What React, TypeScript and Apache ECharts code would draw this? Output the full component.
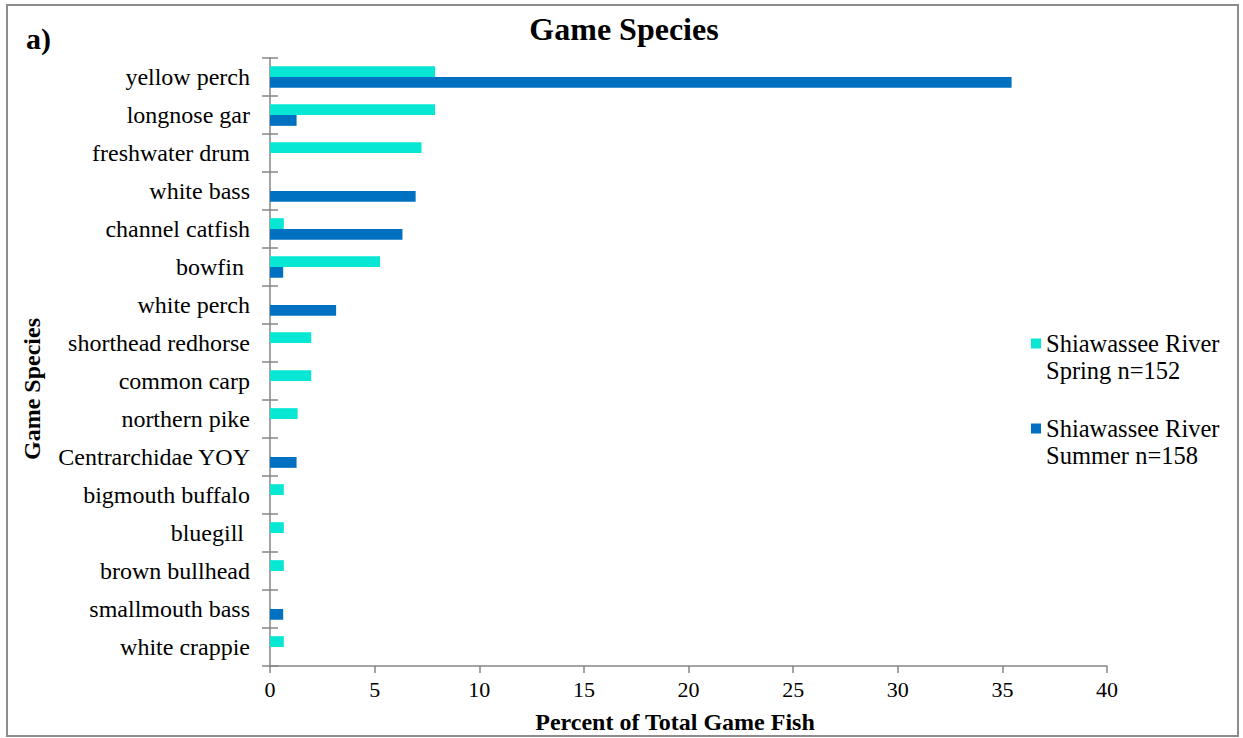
import React, { useEffect, useRef } from "react";
import * as echarts from "echarts";

const categories = [
  "yellow perch",
  "longnose gar",
  "freshwater drum",
  "white bass",
  "channel catfish",
  "bowfin ",
  "white perch",
  "shorthead redhorse",
  "common carp",
  "northern pike",
  "Centrarchidae YOY",
  "bigmouth buffalo",
  "bluegill ",
  "brown bullhead",
  "smallmouth bass",
  "white crappie",
];

const springValues = [7.89, 7.89, 7.24, 0, 0.66, 5.26, 0, 1.97, 1.97, 1.32, 0, 0.66, 0.66, 0.66, 0, 0.66];
const summerValues = [35.44, 1.27, 0, 6.96, 6.33, 0.63, 3.16, 0, 0, 0, 1.27, 0, 0, 0, 0.63, 0];

const seriesNames = ["Shiawassee River\nSpring n=152", "Shiawassee River\nSummer n=158"];
const xTicks = { min: 0, max: 40, interval: 5 };

const FONT = "'Liberation Serif', 'Times New Roman', serif";
const AXIS_COLOR = "#868686";

export default function App() {
  const ref = useRef<HTMLDivElement>(null);

  useEffect(() => {
    if (!ref.current) return;
    const chart = echarts.init(ref.current, undefined, { renderer: "svg" });
    chart.setOption({
      animation: false,
      backgroundColor: "#ffffff",
      textStyle: { fontFamily: FONT },
      title: {
        text: "Game Species",
        left: 619,
        top: 8,
        textAlign: "center",
        textStyle: { fontFamily: FONT, fontSize: 32, fontWeight: "bold", color: "#000" },
      },
      legend: {
        orient: "vertical",
        left: 1026,
        top: 298,
        itemWidth: 10,
        itemHeight: 10,
        itemGap: 4,
        icon: "rect",
        data: seriesNames,
        formatter: (name: string) => "\n" + name,
        textStyle: {
          fontFamily: FONT,
          fontSize: 24.5,
          color: "#000",
          lineHeight: 27,
        },
      },
      grid: { left: 270, right: 136, top: 58, bottom: 72, containLabel: false },
      xAxis: {
        type: "value",
        min: xTicks.min,
        max: xTicks.max,
        interval: xTicks.interval,
        axisLine: { show: true, lineStyle: { color: AXIS_COLOR, width: 1.5 } },
        axisTick: { show: true, length: 7, lineStyle: { color: AXIS_COLOR, width: 1.5 } },
        splitLine: { show: false },
        axisLabel: { fontFamily: FONT, fontSize: 22, color: "#000", margin: 12 },
      },
      yAxis: [
        {
          type: "category",
          data: categories,
          inverse: true,
          axisLine: { show: true, lineStyle: { color: AXIS_COLOR, width: 1.5 } },
          axisTick: { show: true, length: 8, lineStyle: { color: AXIS_COLOR, width: 1.5 } },
          axisLabel: { fontFamily: FONT, fontSize: 24, color: "#000", margin: 20 },
        },
        {
          type: "category",
          data: categories,
          inverse: true,
          position: "left",
          axisLine: { show: false },
          axisTick: { show: true, inside: true, length: 8, lineStyle: { color: AXIS_COLOR, width: 1.5 } },
          axisLabel: { show: false },
        },
      ],
      series: [
        {
          name: seriesNames[0],
          type: "bar",
          data: springValues,
          barGap: "0%",
          barCategoryGap: "43%",
          itemStyle: { color: "#08E6D4" },
        },
        {
          name: seriesNames[1],
          type: "bar",
          data: summerValues,
          barGap: "0%",
          barCategoryGap: "43%",
          itemStyle: { color: "#0070C0" },
        },
      ],
      graphic: [
        {
          type: "rect",
          shape: { x: 7, y: 5, width: 1231, height: 731 },
          style: { fill: "none", stroke: "#8c8c8c", lineWidth: 2 },
          silent: true,
        },
        {
          type: "text",
          x: 26,
          y: 38,
          style: {
            text: "a)",
            fontFamily: FONT,
            fontSize: 30,
            fontWeight: "bold",
            fill: "#000",
            verticalAlign: "middle",
          },
        },
        {
          type: "text",
          x: 675,
          y: 722,
          style: {
            text: "Percent of Total Game Fish",
            fontFamily: FONT,
            fontSize: 24,
            fontWeight: "bold",
            fill: "#000",
            align: "center",
            verticalAlign: "middle",
          },
        },
        {
          type: "text",
          x: 32,
          y: 389,
          rotation: Math.PI / 2,
          style: {
            text: "Game Species",
            fontFamily: FONT,
            fontSize: 24,
            fontWeight: "bold",
            fill: "#000",
            align: "center",
            verticalAlign: "middle",
          },
        },
      ],
    });
    return () => chart.dispose();
  }, []);

  return (
    <div
      ref={ref}
      style={{ position: "absolute", left: 0, top: 0, width: 1243, height: 738 }}
    />
  );
}
